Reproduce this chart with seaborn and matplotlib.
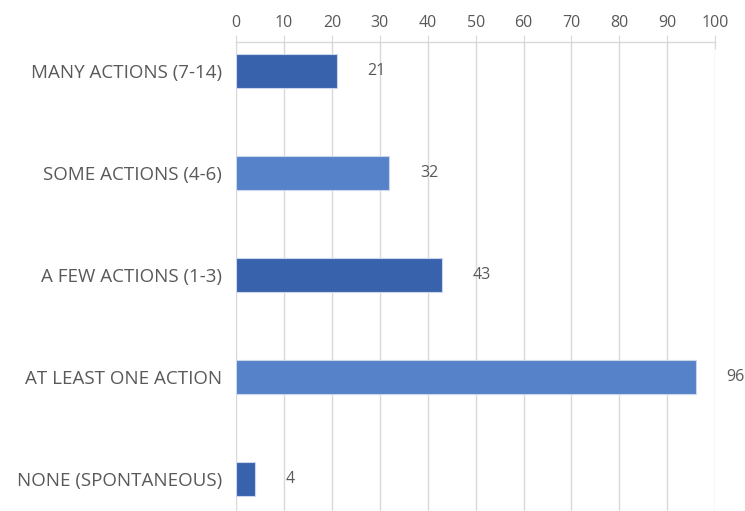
import matplotlib
matplotlib.use("Agg")
import matplotlib.pyplot as plt
import seaborn as sns
import pandas as pd

# data
categories = [
    "MANY ACTIONS (7-14)",
    "SOME ACTIONS (4-6)",
    "A FEW ACTIONS (1-3)",
    "AT LEAST ONE ACTION",
    "NONE (SPONTANEOUS)",
]
counts = [21, 32, 43, 96, 4]
bar_colors = ["#3862AC", "#5582C8", "#3862AC", "#5582C8", "#3862AC"]

df = pd.DataFrame({"category": categories, "count": counts})

sns.set_style("white")
plt.rcParams["font.family"] = ["Open Sans", "DejaVu Sans"]
text_gray = "#595959"

fig = plt.figure(figsize=(7.45, 5.11), dpi=100)
ax = fig.add_axes([0.317, 0.0, 0.643, 0.918])

sns.barplot(
    data=df, x="count", y="category", hue="category",
    palette=bar_colors, saturation=1, width=0.33, legend=False,
    edgecolor="#C9D6EC", linewidth=0.8, ax=ax, zorder=3,
)

ax.set_xlim(0, 100)
ax.set_ylim(4.31, -0.284)
ax.set_xticks(range(0, 101, 10))
ax.xaxis.tick_top()
ax.xaxis.set_label_position("top")
ax.set_xlabel("")
ax.set_ylabel("")
ax.grid(axis="x", color="#D9D9D9", linewidth=1, zorder=0)
ax.grid(axis="y", visible=False)

for side in ["left", "right", "bottom"]:
    ax.spines[side].set_visible(False)
ax.spines["top"].set_color("#D9D9D9")
ax.spines["top"].set_linewidth(1)

ax.tick_params(axis="x", direction="inout", length=10, color="#D9D9D9",
               labelsize=11.5, labelcolor=text_gray, pad=3)
ax.tick_params(axis="y", length=0, labelsize=13.5, labelcolor=text_gray, pad=10)

for i, v in enumerate(counts):
    ax.annotate(str(v), xy=(v, i), xytext=(22, 0), textcoords="offset points",
                ha="left", va="center", fontsize=11.5, color=text_gray)

fig.savefig("out.png", dpi=100)
